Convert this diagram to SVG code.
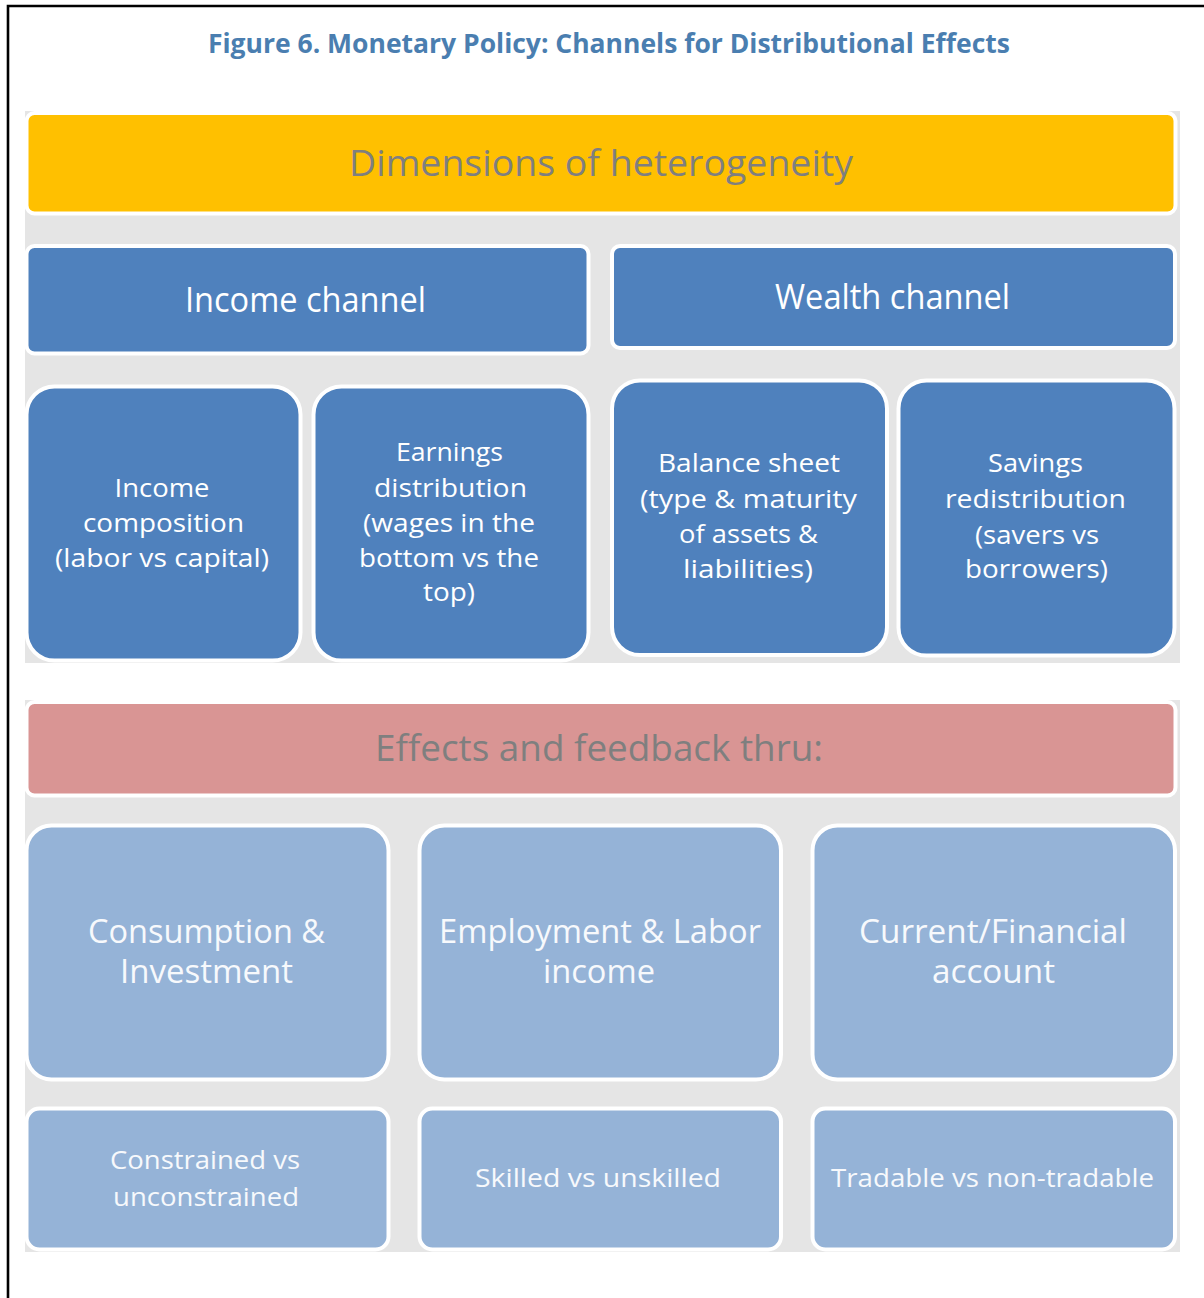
<svg xmlns="http://www.w3.org/2000/svg" width="1204" height="1298" viewBox="0 0 1204 1298">
<style>
.panel{fill:#e5e5e5}
.box{stroke:#fff;stroke-width:4}
.yellow{fill:#ffc000}
.pink{fill:#d99594}
.dark{fill:#4f81bd}
.light{fill:#95b3d7}
text{font-family:"Open Sans","Liberation Sans",sans-serif;text-anchor:middle}
.title{font-weight:bold;font-size:26px;fill:#4a7eb0}
.hdr{font-size:37px;fill:#7f7f7f}
.ch{font-size:34px;fill:#fff}
.sm{font-size:26px;fill:#fff}
.lg{font-size:32px;fill:#f7f9fc}
.bt{font-size:26px;fill:#f7f9fc}
</style>
<rect width="1204" height="1298" fill="#fff"/>
<path d="M8 1298 V6 H1204" fill="none" stroke="#000" stroke-width="2.6"/>
<text class="title" x="609" y="53" textLength="802" lengthAdjust="spacingAndGlyphs">Figure 6. Monetary Policy: Channels for Distributional Effects</text>

<rect class="panel" x="25" y="111" width="1155" height="552"/>
<rect class="panel" x="25" y="700" width="1155" height="552"/>

<g id="dimensions">
<rect class="box yellow" x="26.5" y="113" width="1149" height="100.5" rx="8"/>
<text class="hdr" x="601" y="176" textLength="504" lengthAdjust="spacingAndGlyphs">Dimensions of heterogeneity</text>
</g>
<g id="income-channel">
<rect class="box dark" x="26.5" y="246" width="562" height="107.5" rx="8"/>
<text class="ch" x="305.5" y="312" textLength="241" lengthAdjust="spacingAndGlyphs">Income channel</text>
</g>
<g id="wealth-channel">
<rect class="box dark" x="612" y="246" width="563" height="102" rx="8"/>
<text class="ch" x="892.5" y="309" textLength="235" lengthAdjust="spacingAndGlyphs">Wealth channel</text>
</g>
<g id="income-composition">
<rect class="box dark" x="26.5" y="386.5" width="274" height="274" rx="28"/>
<text class="sm" x="162" y="497" textLength="95" lengthAdjust="spacingAndGlyphs">Income</text>
<text class="sm" x="163.5" y="532" textLength="161" lengthAdjust="spacingAndGlyphs">composition</text>
<text class="sm" x="162" y="567" textLength="214" lengthAdjust="spacingAndGlyphs">(labor vs capital)</text>
</g>
<g id="earnings-distribution">
<rect class="box dark" x="313.5" y="386.5" width="275" height="274" rx="28"/>
<text class="sm" x="449.5" y="461" textLength="107" lengthAdjust="spacingAndGlyphs">Earnings</text>
<text class="sm" x="450.5" y="497" textLength="153" lengthAdjust="spacingAndGlyphs">distribution</text>
<text class="sm" x="449" y="532" textLength="172" lengthAdjust="spacingAndGlyphs">(wages in the</text>
<text class="sm" x="449" y="567" textLength="180" lengthAdjust="spacingAndGlyphs">bottom vs the</text>
<text class="sm" x="449" y="601" textLength="52" lengthAdjust="spacingAndGlyphs">top)</text>
</g>
<g id="balance-sheet">
<rect class="box dark" x="612" y="380.5" width="275" height="274.5" rx="28"/>
<text class="sm" x="749" y="472" textLength="182" lengthAdjust="spacingAndGlyphs">Balance sheet</text>
<text class="sm" x="748.5" y="508" textLength="217" lengthAdjust="spacingAndGlyphs">(type &amp; maturity</text>
<text class="sm" x="748.5" y="543" textLength="139" lengthAdjust="spacingAndGlyphs">of assets &amp;</text>
<text class="sm" x="748" y="578" textLength="130" lengthAdjust="spacingAndGlyphs">liabilities)</text>
</g>
<g id="savings-redistribution">
<rect class="box dark" x="898.5" y="380.5" width="276" height="275" rx="28"/>
<text class="sm" x="1035.5" y="472" textLength="95" lengthAdjust="spacingAndGlyphs">Savings</text>
<text class="sm" x="1035.5" y="508" textLength="181" lengthAdjust="spacingAndGlyphs">redistribution</text>
<text class="sm" x="1037" y="544" textLength="124" lengthAdjust="spacingAndGlyphs">(savers vs</text>
<text class="sm" x="1036.5" y="578" textLength="143" lengthAdjust="spacingAndGlyphs">borrowers)</text>
</g>

<g id="effects">
<rect class="box pink" x="26.5" y="702" width="1149" height="93.5" rx="8"/>
<text class="hdr" x="599" y="761" textLength="448" lengthAdjust="spacingAndGlyphs">Effects and feedback thru:</text>
</g>
<g id="consumption">
<rect class="box light" x="26.5" y="825.5" width="362" height="254" rx="25"/>
<text class="lg" x="206.5" y="943" textLength="237" lengthAdjust="spacingAndGlyphs">Consumption &amp;</text>
<text class="lg" x="206.5" y="983" textLength="173" lengthAdjust="spacingAndGlyphs">Investment</text>
</g>
<g id="employment">
<rect class="box light" x="419.5" y="825.5" width="361.5" height="254" rx="25"/>
<text class="lg" x="600" y="943" textLength="322" lengthAdjust="spacingAndGlyphs">Employment &amp; Labor</text>
<text class="lg" x="599" y="983" textLength="112" lengthAdjust="spacingAndGlyphs">income</text>
</g>
<g id="current-account">
<rect class="box light" x="812.5" y="825.5" width="362.5" height="254" rx="25"/>
<text class="lg" x="993" y="943" textLength="268" lengthAdjust="spacingAndGlyphs">Current/Financial</text>
<text class="lg" x="993.5" y="983" textLength="123" lengthAdjust="spacingAndGlyphs">account</text>
</g>
<g id="constrained">
<rect class="box light" x="26.5" y="1108.5" width="362" height="141" rx="13"/>
<text class="bt" x="205" y="1169" textLength="190" lengthAdjust="spacingAndGlyphs">Constrained vs</text>
<text class="bt" x="206" y="1206" textLength="186" lengthAdjust="spacingAndGlyphs">unconstrained</text>
</g>
<g id="skilled">
<rect class="box light" x="419.5" y="1108.5" width="361.5" height="141" rx="13"/>
<text class="bt" x="598" y="1187" textLength="246" lengthAdjust="spacingAndGlyphs">Skilled vs unskilled</text>
</g>
<g id="tradable">
<rect class="box light" x="812.5" y="1108.5" width="362.5" height="141" rx="13"/>
<text class="bt" x="992.5" y="1187" textLength="323" lengthAdjust="spacingAndGlyphs">Tradable vs non-tradable</text>
</g>
<g id="connectors"/>
</svg>
